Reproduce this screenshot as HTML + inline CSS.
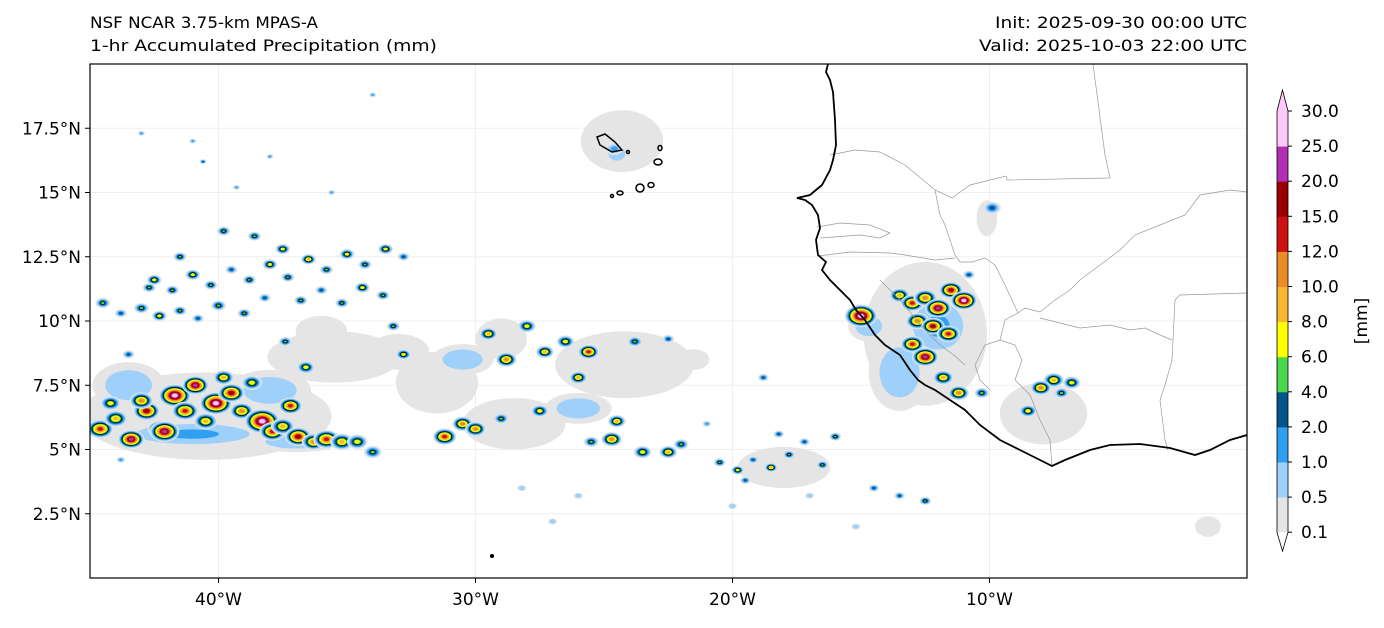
<!DOCTYPE html>
<html><head><meta charset="utf-8">
<style>
body{margin:0;background:#fff;font-family:"Liberation Sans","DejaVu Sans",sans-serif;}
svg text{font-family:"DejaVu Sans","Liberation Sans",sans-serif;}
</style></head>
<body>
<svg id="chart" width="1384" height="623" viewBox="0 0 1384 623" xmlns="http://www.w3.org/2000/svg">
<rect width="1384" height="623" fill="#fff"/>
<text x="90" y="28" font-size="16" textLength="228" lengthAdjust="spacingAndGlyphs">NSF NCAR 3.75-km MPAS-A</text>
<text x="90" y="51" font-size="16" textLength="347" lengthAdjust="spacingAndGlyphs">1-hr Accumulated Precipitation (mm)</text>
<text x="995" y="28" font-size="16" textLength="252" lengthAdjust="spacingAndGlyphs">Init: 2025-09-30 00:00 UTC</text>
<text x="979" y="51" font-size="16" textLength="268" lengthAdjust="spacingAndGlyphs">Valid: 2025-10-03 22:00 UTC</text>
<defs><clipPath id="mapclip"><rect x="90" y="64" width="1157" height="514"/></clipPath></defs>
<g id="grid"></g>
<g id="fields" clip-path="url(#mapclip)"></g>
<g id="basemap" clip-path="url(#mapclip)">
<path fill="none" stroke="#999" stroke-width="0.7" d="M1093,64 L1105,155 L1110,178 L1007,180 L1006,176 L970,185 L952,198 L935,190 L905,165 L880,152 L855,150 L830,155 M935,190 L940,215 L945,225 L955,255 L960,262 L972,262 L985,258 L995,265 L1005,285 L1018,313 M817,227 L840,223 L870,225 L890,233 L880,238 L860,235 L820,238 M818,256 L850,252 L890,253 L905,255 L935,260 L955,258 M1018,313 L1025,308 L1040,312 L1055,300 L1070,290 L1080,280 L1100,265 L1120,250 L1135,235 L1160,225 L1185,215 L1200,195 L1230,190 L1247,192 M1175,300 L1180,295 L1247,293 M1175,300 L1172,360 L1165,385 L1160,400 L1165,440 L1168,450 M1040,318 L1080,328 L1110,325 L1130,330 L1145,328 L1160,335 L1172,340 M1018,313 L1005,320 L1000,340 L1015,345 L1022,360 L1015,380 L1030,395 L1040,420 L1050,440 L1052,466 M880,280 L900,300 L925,330 L940,345 L955,356 L965,365 M1000,340 L985,345 L975,365 L980,380 L990,390"/>
<path fill="none" stroke="#000" stroke-width="1.8" d="M828,64 L826,72 L830,80 L833,92 L835,120 L836,145 L833,160 L830,170 L822,185 L810,195 L797,198 L805,200 L812,205 L818,215 L820,228 L816,240 L818,255 L826,262 L822,270 L830,280 L840,290 L850,300 L856,310 L865,320 L875,335 L885,345 L900,355 L910,370 L918,380 L925,385 L935,390 L950,400 L965,410 L980,425 L1000,440 L1020,450 L1040,460 L1052,466 L1065,460 L1090,450 L1110,445 L1140,444 L1170,448 L1195,455 L1210,450 L1230,440 L1247,435"/>
<g fill="none" stroke="#000" stroke-width="1.5">
<path d="M597,137 L605,134 L615,142 L622,150 L612,152 L600,145 Z"/><ellipse cx="658" cy="162" rx="4" ry="3"/><ellipse cx="660" cy="148" rx="2" ry="2.5"/><ellipse cx="640" cy="188" rx="4" ry="4"/><ellipse cx="651" cy="185" rx="3" ry="2.5"/><ellipse cx="620" cy="193" rx="3" ry="2"/><circle cx="612" cy="196" r="1.5"/><circle cx="628" cy="152" r="1.5"/><circle cx="492" cy="556" r="1.3" fill="#000"/>
</g>
</g>
<rect x="90" y="64" width="1157" height="514" fill="none" stroke="#000" stroke-width="1.2"/>
<g id="axes"></g>
<g id="cbar"></g>
<text transform="translate(1367,321) rotate(-90)" font-size="17" text-anchor="middle">[mm]</text>
</svg>
<script>
const lonTicks=[-40,-30,-20,-10];
const lonLabels=["40°W","30°W","20°W","10°W"];
const latTicks=[2.5,5,7.5,10,12.5,15,17.5];
const latLabels=["2.5°N","5°N","7.5°N","10°N","12.5°N","15°N","17.5°N"];
const levels=[0.1,0.5,1,2,4,6,8,10,12,15,20,25,30];
const levelColors=["#e5e5e5","#9fd0fa","#2f9ff2","#00558a","#4cd64c","#ffff00","#f7b731","#ea8c25","#cc1111","#990000","#b22fb5","#ffc8fa","#ffc8fa"];
// broad areas: lon, lat, rx(deg), ry(deg), peak(mm)
const areaLon=[-40.5,-35.5,-31.5,-28.5,-24.2,-24.3,-12.5,-7.9,-41,-37,-30.5,-13.5,-12,-26,-29,-33,-36,-43.5,-38,-14.7,-24.5,-10.1,-21.5,-18,-1.5];
const areaLat=[6.3,8.6,7.6,6.0,8.3,17.0,9.5,6.4,5.6,5.3,8.5,8.0,9.8,6.6,9.3,8.8,9.6,7.5,7.3,9.8,16.5,14.0,8.5,4.3,2.0];
const areaRx=[4.9,2.6,1.6,2.0,2.7,1.6,2.4,1.7,3.4,1.8,1.2,1.2,1.5,1.3,1.0,1.2,1.0,1.4,1.6,0.8,0.5,0.4,0.6,1.8,0.5];
const areaRy=[1.7,1.0,1.2,1.0,1.3,1.2,2.8,1.2,0.6,0.4,0.6,1.5,1.4,0.6,0.8,0.7,0.6,0.9,0.8,0.6,0.4,0.7,0.4,0.8,0.4];
const areaPeak=[0.1,0.1,0.1,0.1,0.1,0.1,0.1,0.1,1,0.5,0.5,0.5,1,0.5,0.1,0.1,0.1,0.5,0.5,0.5,0.5,0.1,0.1,0.1,0.1];
// convective cells: lon, lat, peak(mm), size(deg)
const cellLon=[-44.6,-44.0,-43.4,-42.8,-42.3,-41.7,-41.3,-40.9,-40.5,-40.1,-39.5,-39.1,-38.7,-38.3,-37.9,-37.5,-36.9,-36.3,-35.8,-35.2,-34.6,-34.0,-44.2,-42.1,-43.0,-39.8,-37.2,-36.6,
-44.5,-43.8,-43,-42.3,-41.5,-40.8,-40,-42.5,-41.8,-41,-40.3,-39.5,-38.8,-38,-37.3,-36.5,-35.8,-35,-34.3,-33.5,-32.8,-39.8,-38.6,-37.5,-36.8,-36,-35.2,-34.4,-33.6,-39,-38.2,-37.4,-33.2,-32.8,-41.5,-43.5,-42.7,
-30.5,-29.5,-28.8,-28,-27.3,-26.5,-25.6,-26,-27.5,-29,-31.2,-30,-24.5,-24.7,-25.5,-23.5,-22.5,-22,-23.8,-22.5,
-20.5,-19.8,-19.2,-18.5,-17.8,-17.2,-16.5,-18.2,-19.5,-16,-13.5,-12.5,-14.5,-18.8,
-15,-13.5,-13,-12.5,-12,-11.5,-11,-12.8,-12.2,-11.6,-13,-12.5,-11.8,-11.2,-10.3,-7.5,-6.8,-8,-7.2,-8.5,-10.8,-24.6,-9.9,
-43.8,-40.6,-39.3,-35.6,-34.0,-28.2,-27.0,-26.0,-21.0,-20.0,-17.0,-15.2,-43.0,-41.0,-38.0];
const cellLat=[5.8,6.2,5.4,6.5,5.8,7.1,6.5,7.5,6.1,6.8,7.2,6.5,7.6,6.1,5.7,5.9,5.5,5.3,5.4,5.3,5.3,4.9,6.8,5.7,6.9,7.8,6.7,8.2,
10.7,10.3,10.5,10.2,10.4,10.1,10.6,11.6,11.2,11.8,11.4,12,11.6,12.2,11.7,12.4,12,12.6,12.2,12.8,12.5,13.5,13.3,12.8,10.8,11.2,10.7,11.3,11,10.3,10.9,9.2,9.8,8.7,12.5,8.7,11.3,
6.0,9.5,8.5,9.8,8.8,9.2,8.8,7.8,6.5,6.2,5.5,5.8,6.1,5.4,5.3,4.9,4.9,5.2,9.2,9.3,
4.5,4.2,4.6,4.3,4.8,5.3,4.4,5.6,3.8,5.5,3.2,3.0,3.5,7.8,
10.2,11,10.7,10.9,10.5,11.2,10.8,10,9.8,9.5,9.1,8.6,7.8,7.2,7.2,7.7,7.6,7.4,7.2,6.5,11.8,16.7,14.4,
4.6,16.2,15.2,15.0,18.8,3.5,2.2,3.2,6.0,2.8,3.2,2.0,17.3,17.0,16.4];
const cellPeak=[12,8,20,15,10,25,12,20,8,25,15,10,6,30,12,8,15,10,12,8,6,4,6,20,10,8,12,6,
4,2,4,6,4,2,4,6,4,6,4,2,4,6,4,8,4,6,4,6,2,4,4,6,4,2,4,6,4,4,2,4,4,6,4,2,4,
10,8,10,6,8,6,12,8,6,4,12,10,8,10,4,6,8,4,4,2,
4,6,2,8,4,2,4,2,2,4,2,4,2,2,
30,8,12,10,20,15,25,10,15,12,12,20,8,10,4,8,6,10,4,6,2,1,2,
1,2,1,1,1,0.5,0.5,0.5,1,0.5,0.5,0.5,1,1,1];
const cellSize=[0.45,0.4,0.45,0.45,0.4,0.55,0.45,0.45,0.4,0.55,0.45,0.4,0.35,0.6,0.45,0.4,0.45,0.4,0.45,0.4,0.35,0.3,0.35,0.5,0.4,0.35,0.4,0.3,
0.25,0.2,0.25,0.25,0.22,0.2,0.25,0.25,0.22,0.25,0.22,0.2,0.22,0.25,0.22,0.25,0.22,0.25,0.22,0.25,0.2,0.22,0.22,0.25,0.22,0.2,0.22,0.25,0.22,0.22,0.2,0.22,0.22,0.25,0.22,0.2,0.22,
0.35,0.3,0.35,0.3,0.3,0.3,0.35,0.3,0.3,0.25,0.4,0.35,0.3,0.35,0.25,0.3,0.3,0.25,0.25,0.2,
0.2,0.22,0.18,0.22,0.2,0.18,0.2,0.18,0.18,0.2,0.18,0.2,0.18,0.18,
0.55,0.35,0.4,0.4,0.45,0.4,0.45,0.4,0.4,0.4,0.4,0.45,0.35,0.35,0.25,0.35,0.3,0.35,0.25,0.3,0.2,0.3,0.3,
0.15,0.12,0.12,0.12,0.12,0.15,0.15,0.15,0.15,0.15,0.15,0.15,0.12,0.12,0.12];

const NS="http://www.w3.org/2000/svg";
const X=lon=>90+(lon+45)*25.7;
const Y=lat=>578-lat*25.7;
const D=25.7;
function mk(tag,attrs,parent){const e=document.createElementNS(NS,tag);for(const k in attrs)e.setAttribute(k,attrs[k]);parent.appendChild(e);return e;}
function nLev(p){let n=0;levels.forEach(t=>{if(p>=t)n++;});return Math.min(n,12);}

const grid=document.getElementById('grid');
lonTicks.forEach((v,i)=>{const l=mk('line',{x1:X(v),x2:X(v),y1:64,y2:578,stroke:'#efefef','stroke-width':1},grid);

});
latTicks.forEach((v,i)=>{const l=mk('line',{x1:90,x2:1247,y1:Y(v),y2:Y(v),stroke:'#efefef','stroke-width':1},grid);

});

const fields=document.getElementById('fields');
areaLon.forEach((lon,i)=>{const n=nLev(areaPeak[i]);
for(let k=0;k<n;k++){const f=1-k*0.35;
const e=mk('ellipse',{cx:X(lon),cy:Y(areaLat[i]),rx:areaRx[i]*D*f,ry:areaRy[i]*D*f,fill:levelColors[k]},fields);

}});
cellLon.forEach((lon,i)=>{const n=nLev(cellPeak[i]);const s=cellSize[i]*D;
for(let k=0;k<n;k++){const f=Math.max(0.12,1-k*0.9/Math.max(n,3));
const e=mk('ellipse',{cx:X(lon),cy:Y(cellLat[i]),rx:s*f*1.15,ry:s*f*0.8,fill:levelColors[k]},fields);
if(k===4){e.setAttribute('stroke','#000');e.setAttribute('stroke-width','0.7');}

}});

const axes=document.getElementById('axes');
lonTicks.forEach((v,i)=>{mk('line',{x1:X(v),x2:X(v),y1:578,y2:583,stroke:'#000'},axes);
const t=mk('text',{x:X(v),y:605,'font-size':17,'text-anchor':'middle'},axes);t.textContent=lonLabels[i];

});
latTicks.forEach((v,i)=>{mk('line',{x1:85,x2:90,y1:Y(v),y2:Y(v),stroke:'#000'},axes);
const t=mk('text',{x:81,y:Y(v)+6,'font-size':17,'text-anchor':'end'},axes);t.textContent=latLabels[i];

});

const cb=document.getElementById('cbar');
const cx0=1277,cw=11,ctop=111,step=35.1;
const CY=k=>ctop+(12-k)*step;
for(let k=0;k<12;k++){const r=mk('rect',{x:cx0,y:CY(k+1),width:cw,height:step+0.5,fill:levelColors[k]},cb);

}
const cbTop=mk('polygon',{points:`${cx0},${ctop} ${cx0+cw/2},${ctop-21} ${cx0+cw},${ctop}`,fill:levelColors[12]},cb);


const cbBot=mk('polygon',{points:`${cx0},${CY(0)} ${cx0+cw/2},${CY(0)+19} ${cx0+cw},${CY(0)}`,fill:'#fff'},cb);


mk('path',{d:`M${cx0},${ctop} L${cx0+cw/2},${ctop-21} L${cx0+cw},${ctop} L${cx0+cw},${CY(0)} L${cx0+cw/2},${CY(0)+19} L${cx0},${CY(0)} Z`,fill:'none',stroke:'#000','stroke-width':0.8},cb);
levels.forEach((v,k)=>{const y=CY(k);mk('line',{x1:cx0+cw,x2:cx0+cw+4,y1:y,y2:y,stroke:'#000'},cb);
const t=mk('text',{x:1301,y:y+6,'font-size':17},cb);t.textContent=v.toFixed(1);

});
</script>
</body></html>
